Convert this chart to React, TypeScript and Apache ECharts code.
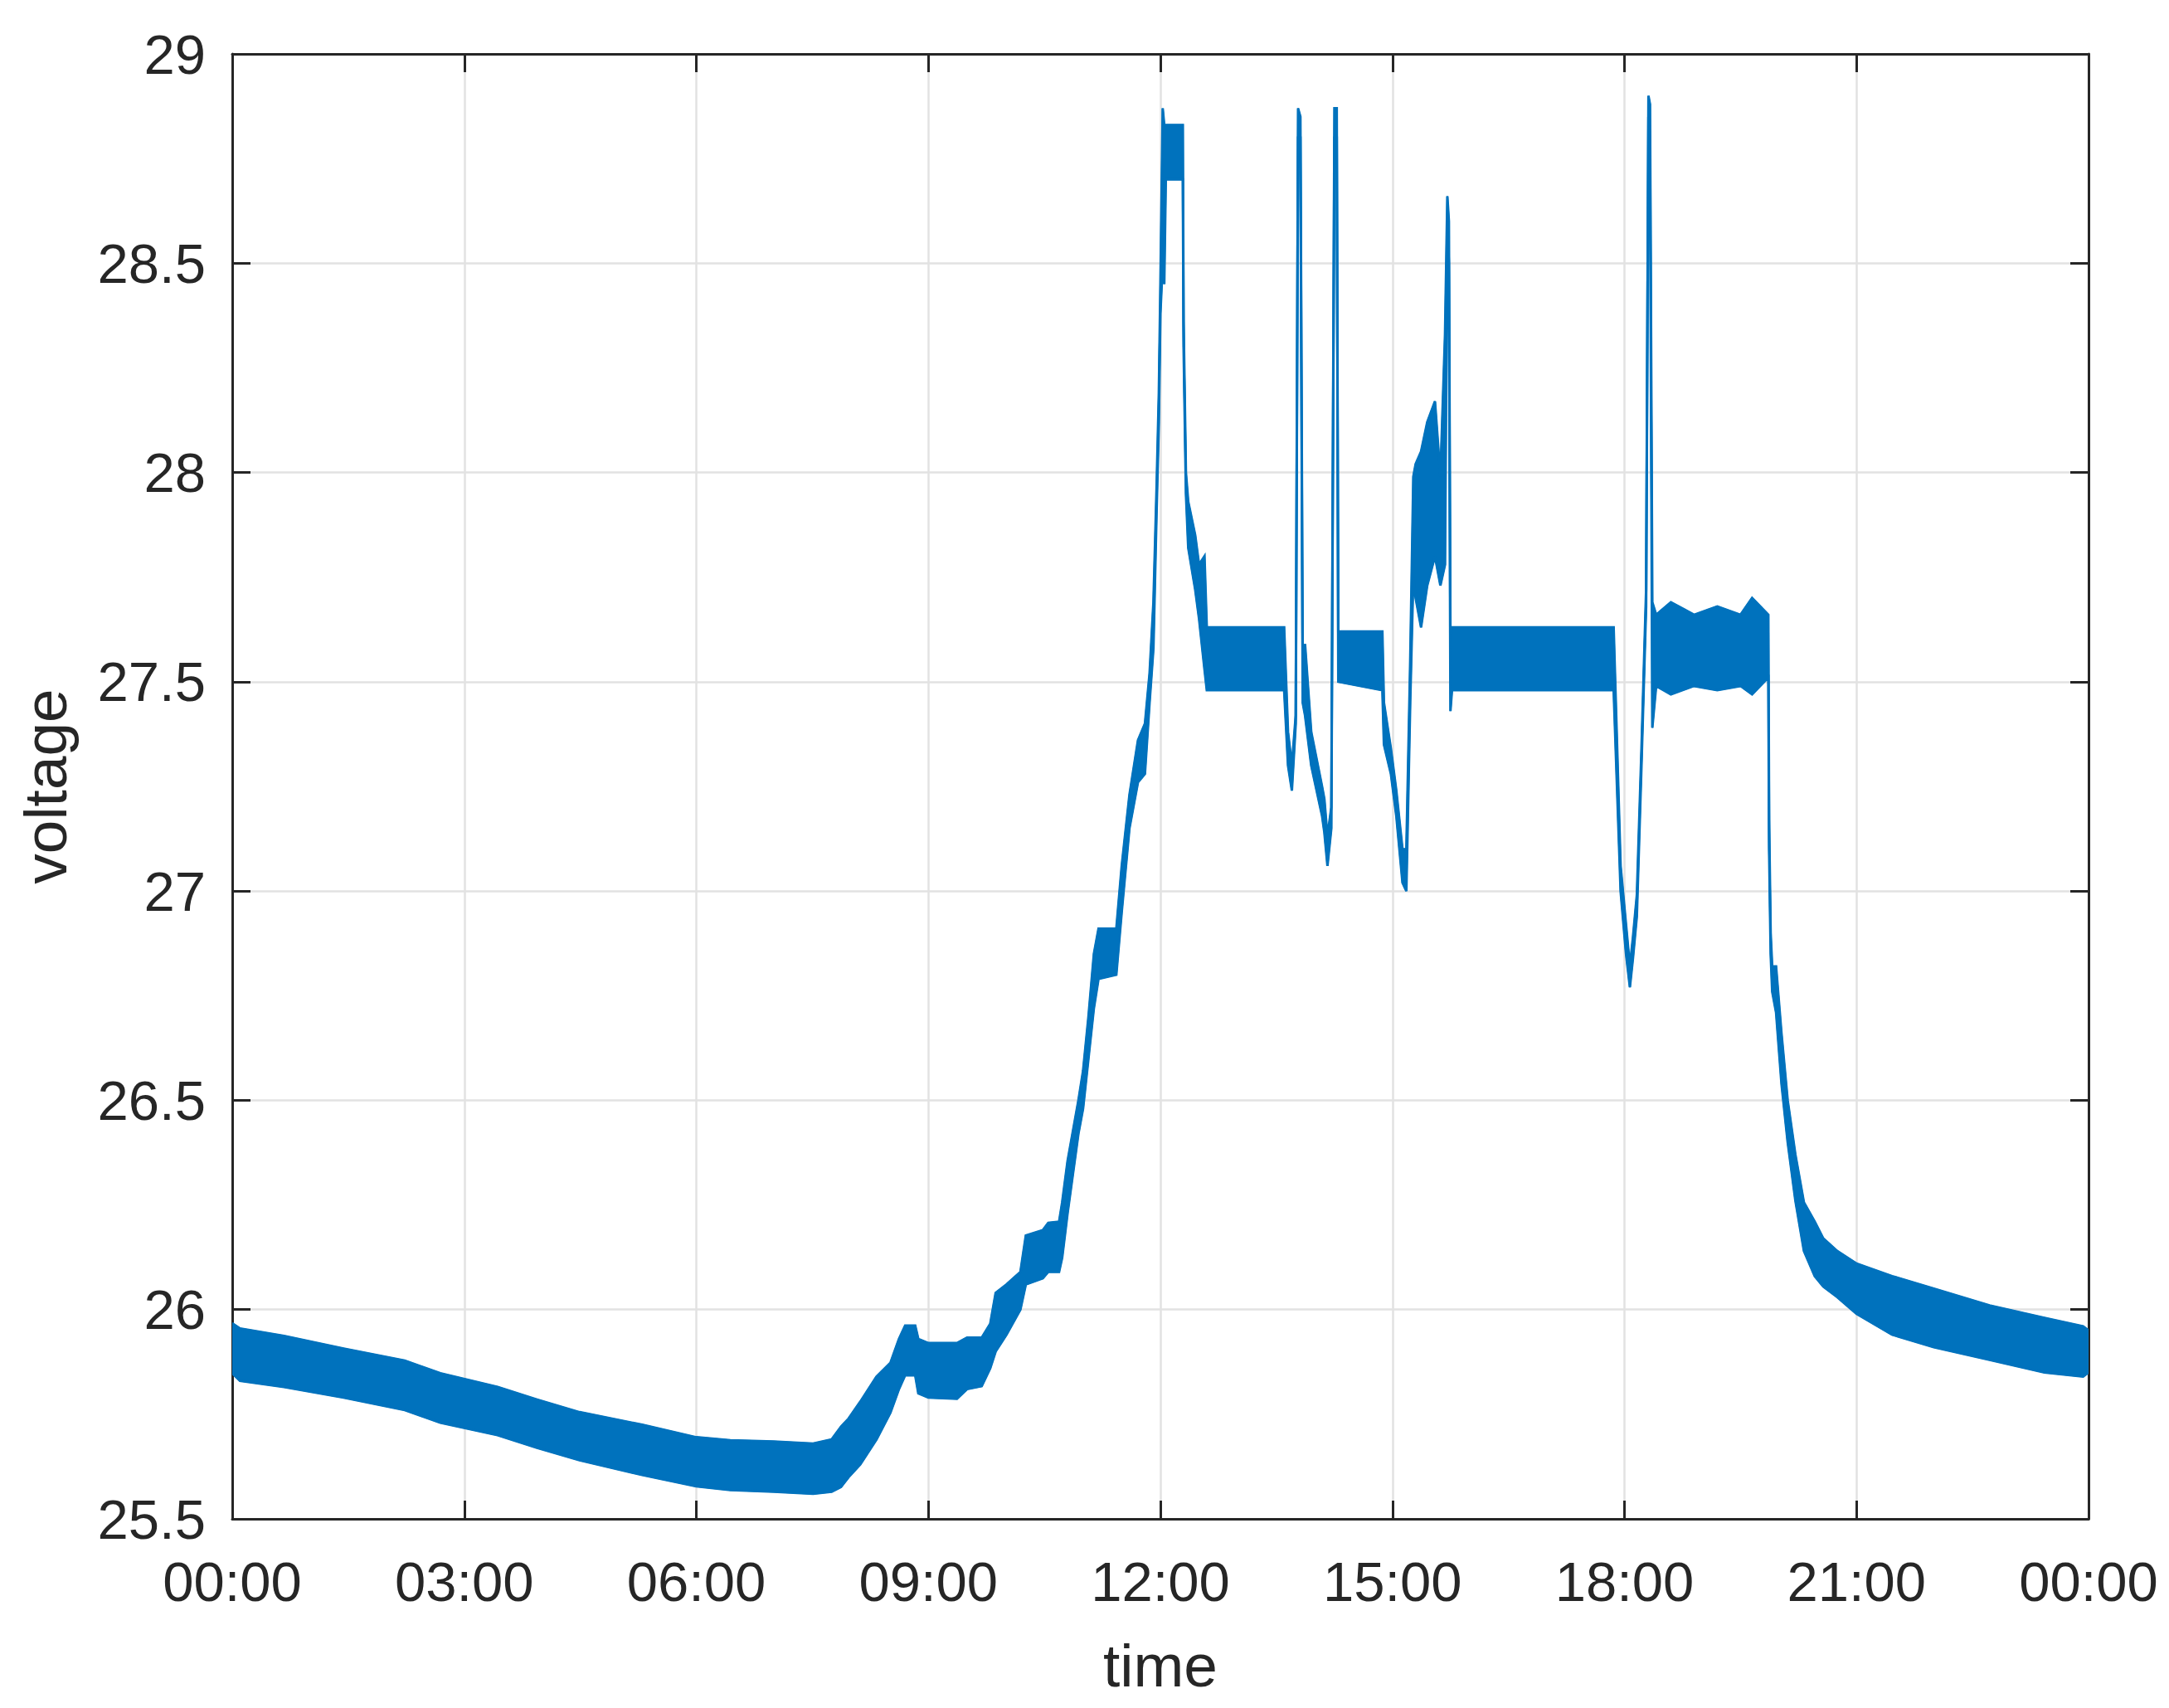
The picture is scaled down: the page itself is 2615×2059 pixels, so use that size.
import React, { useEffect, useRef } from "react";
import * as echarts from "echarts";

// time in hours since 00:00
const hours = [
  0.0, 0.1, 0.67, 1.44, 2.23, 2.69, 3.43, 3.94, 4.49, 5.3, 6.0, 6.44, 7.0, 7.51, 7.75, 7.87, 7.97, 8.12,
  8.33, 8.51, 8.62, 8.7, 8.83, 8.87, 9.0, 9.37, 9.5, 9.69, 9.8, 9.87, 10.01, 10.19, 10.26, 10.48, 10.55,
  10.69, 10.73, 10.8, 10.94, 11.0, 11.07, 11.14, 11.2, 11.43, 11.5, 11.6, 11.71, 11.8, 11.86, 11.91,
  11.95, 11.98, 12.0, 12.03, 12.05, 12.07, 12.29, 12.3, 12.33, 12.36, 12.45, 12.5, 12.57, 12.6, 13.6,
  13.65, 13.7, 13.75, 13.78, 13.81, 13.84, 13.87, 13.95, 14.09, 14.12, 14.16, 14.21, 14.25, 14.28, 14.3,
  14.87, 14.89, 14.98, 15.05, 15.13, 15.18, 15.23, 15.27, 15.3, 15.37, 15.45, 15.55, 15.62, 15.68, 15.71,
  15.73, 15.75, 15.77, 17.86, 17.95, 18.02, 18.07, 18.11, 18.16, 18.22, 18.28, 18.31, 18.33, 18.36, 18.41,
  18.6, 18.9, 19.2, 19.5, 19.65, 19.86, 19.87, 19.89, 19.91, 19.96, 20.03, 20.11, 20.21, 20.32, 20.46,
  20.57, 20.75, 21.0, 21.46, 22.0, 22.72, 23.43, 23.93, 24.0,
];

// upper edge of the noisy voltage trace
const voltageUpper = [
  25.967, 25.955, 25.937, 25.907, 25.878, 25.848, 25.815, 25.785, 25.755, 25.725, 25.695, 25.688, 25.685,
  25.68, 25.69, 25.72, 25.74, 25.78, 25.84, 25.873, 25.93, 25.962, 25.962, 25.93, 25.92, 25.92, 25.933,
  25.933, 25.966, 26.04, 26.06, 26.09, 26.177, 26.19, 26.207, 26.21, 26.256, 26.355, 26.5, 26.57, 26.7,
  26.85, 26.91, 26.91, 27.06, 27.23, 27.36, 27.4, 27.52, 27.69, 27.96, 28.19, 28.45, 28.87, 28.83, 28.83,
  28.83, 28.36, 28.0, 27.93, 27.85, 27.78, 27.8, 27.63, 27.63, 27.38, 27.3, 27.42, 28.87, 28.85, 27.55,
  27.59, 27.38, 27.25, 27.22, 27.13, 27.2, 28.87, 28.87, 27.62, 27.62, 27.45, 27.34, 27.24, 27.1, 27.1,
  27.55, 27.99, 28.02, 28.05, 28.12, 28.17, 27.99, 28.33, 28.66, 28.6, 27.6, 27.63, 27.63, 27.06, 26.92,
  26.82, 26.89, 26.99, 27.34, 27.72, 28.9, 28.88, 27.69, 27.66, 27.69, 27.66, 27.68, 27.66, 27.7, 27.66,
  27.17, 26.9, 26.82, 26.82, 26.66, 26.5, 26.37, 26.256, 26.21, 26.17, 26.14, 26.11, 26.08, 26.05, 26.01,
  25.98, 25.96, 25.95,
];

// lower edge of the noisy voltage trace
const voltageLower = [
  25.848, 25.83, 25.815, 25.79, 25.76, 25.73, 25.7, 25.67, 25.64, 25.605, 25.578, 25.569, 25.565, 25.56,
  25.565, 25.576, 25.6, 25.63, 25.69, 25.754, 25.81, 25.843, 25.843, 25.8, 25.79, 25.787, 25.81, 25.817,
  25.86, 25.9, 25.94, 26.0, 26.06, 26.075, 26.09, 26.09, 26.124, 26.23, 26.42, 26.48, 26.6, 26.72, 26.79,
  26.8, 26.95, 27.15, 27.26, 27.28, 27.45, 27.58, 27.9, 28.12, 28.38, 28.5, 28.45, 28.7, 28.7, 28.3,
  27.95, 27.82, 27.72, 27.65, 27.53, 27.48, 27.48, 27.3, 27.24, 27.4, 28.8, 28.8, 27.45, 27.42, 27.3,
  27.18, 27.14, 27.06, 27.15, 28.8, 28.8, 27.5, 27.48, 27.35, 27.28, 27.18, 27.02, 27.0, 27.45, 27.75,
  27.7, 27.63, 27.73, 27.8, 27.73, 27.78, 28.6, 28.5, 27.43, 27.48, 27.48, 27.0, 26.85, 26.77, 26.84,
  26.94, 27.3, 27.68, 28.85, 28.8, 27.39, 27.49, 27.47, 27.49, 27.48, 27.49, 27.47, 27.51, 27.1, 26.85,
  26.76, 26.71, 26.54, 26.4, 26.26, 26.14, 26.08, 26.055, 26.03, 25.99, 25.94, 25.91, 25.88, 25.85, 25.84,
  25.85,
];

const xTickLabels = ["00:00", "03:00", "06:00", "09:00", "12:00", "15:00", "18:00", "21:00", "00:00"];

const FONT = "'Liberation Sans', Arial, Helvetica, sans-serif";
const LINE = "#0072BD";
const AXIS = "#262626";
const GRID = "#e2e2e2";

export default function App() {
  const ref = useRef<HTMLDivElement>(null);

  useEffect(() => {
    if (!ref.current) return;
    const chart = echarts.init(ref.current, undefined, { renderer: "svg" });

    const bandData = hours.map((h, i) => [h, voltageLower[i], voltageUpper[i]]);

    const axisLine = { show: true, onZero: false, lineStyle: { color: AXIS, width: 3 } };
    const axisTick = { show: true, inside: true, length: 22, lineStyle: { color: AXIS, width: 3 } };

    const renderBand = (params: any, api: any) => {
      if (params.dataIndex !== 0) return null;
      const upperPts = hours.map((h, i) => api.coord([h, voltageUpper[i]]));
      const lowerPts = hours.map((h, i) => api.coord([h, voltageLower[i]]));
      const polygon = upperPts.concat(lowerPts.slice().reverse());
      return {
        type: "group",
        children: [
          {
            type: "polygon",
            shape: { points: polygon },
            style: { fill: LINE, stroke: LINE, lineWidth: 2 },
          },
          {
            type: "polyline",
            shape: { points: upperPts },
            style: { fill: "none", stroke: LINE, lineWidth: 3 },
          },
          {
            type: "polyline",
            shape: { points: lowerPts },
            style: { fill: "none", stroke: LINE, lineWidth: 3 },
          },
        ],
      };
    };

    chart.setOption({
      animation: false,
      backgroundColor: "#ffffff",
      grid: { left: 280, top: 65, right: 97, bottom: 228, containLabel: false },
      xAxis: [
        {
          type: "value",
          min: 0,
          max: 24,
          interval: 3,
          position: "bottom",
          axisLine,
          axisTick,
          axisLabel: {
            show: true,
            margin: 42,
            color: AXIS,
            fontFamily: FONT,
            fontSize: 67,
            showMinLabel: true,
            showMaxLabel: true,
            formatter: (v: number) => xTickLabels[Math.round(v / 3)] ?? "",
          },
          splitLine: { show: true, lineStyle: { color: GRID, width: 2.5 } },
          name: "time",
          nameLocation: "middle",
          nameGap: 140,
          nameTextStyle: { color: AXIS, fontFamily: FONT, fontSize: 73 },
        },
        {
          type: "value",
          min: 0,
          max: 24,
          interval: 3,
          position: "top",
          axisLine,
          axisTick,
          axisLabel: { show: false },
          splitLine: { show: false },
        },
      ],
      yAxis: [
        {
          type: "value",
          min: 25.5,
          max: 29,
          interval: 0.5,
          position: "left",
          axisLine,
          axisTick,
          axisLabel: {
            show: true,
            margin: 32,
            color: AXIS,
            fontFamily: FONT,
            fontSize: 67,
            showMinLabel: true,
            showMaxLabel: true,
          },
          splitLine: { show: true, lineStyle: { color: GRID, width: 2.5 } },
          name: "voltage",
          nameLocation: "middle",
          nameGap: 189,
          nameTextStyle: { color: AXIS, fontFamily: FONT, fontSize: 73 },
        },
        {
          type: "value",
          min: 25.5,
          max: 29,
          interval: 0.5,
          position: "right",
          axisLine,
          axisTick,
          axisLabel: { show: false },
          splitLine: { show: false },
        },
      ],
      series: [
        {
          name: "voltage",
          type: "custom",
          xAxisIndex: 0,
          yAxisIndex: 0,
          coordinateSystem: "cartesian2d",
          data: bandData,
          encode: { x: 0, y: [1, 2] },
          renderItem: renderBand,
          clip: true,
          z: 3,
        },
      ],
    });

    return () => chart.dispose();
  }, []);

  return (
    <div
      ref={ref}
      style={{ position: "fixed", left: 0, top: 0, width: 2615, height: 2059, background: "#fff" }}
    />
  );
}
